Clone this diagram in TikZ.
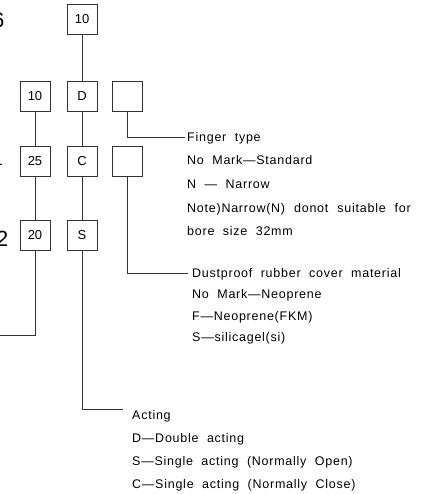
\documentclass[tikz,border=0pt]{standalone}
\usepackage{fontspec}
\setmainfont{Liberation Sans}
\newfontfamily\lblfont[LetterSpace=6]{Liberation Sans}
\begin{document}
\begin{tikzpicture}[x=1pt,y=-1pt,
  box/.style={draw=black!80, line width=0.9pt, minimum size=30pt, inner sep=0pt, font=\fontsize{13}{15}\selectfont},
  conn/.style={draw=black!80, line width=0.9pt},
  lbl/.style={anchor=base west, inner sep=0pt, font=\lblfont\fontsize{12.5}{14}\selectfont},
  edge/.style={anchor=base east, inner sep=0pt, font=\fontsize{21}{24}\selectfont}]
\useasboundingbox (0,0) rectangle (426,494);
\clip (0,0) rectangle (426,494);
% cut-off digits on the left edge
\node[edge] (l6) at (4.5,28) {6};
\node[edge, font=\fontsize{14}{16}\selectfont] (l1) at (3,169) {-};
\node[edge, font=\fontsize{22}{24}\selectfont] (l2) at (8.5,246) {2};
% boxes
\node[box] (t10) at (82,19) {10};
\node[box] (a10) at (35,96) {10};
\node[box] (d) at (82,96) {D};
\node[box] (e1) at (127,96) {};
\node[box] (a25) at (35,161.5) {25};
\node[box] (c) at (82,161.5) {C};
\node[box] (e2) at (127,161.5) {};
\node[box] (a20) at (35,235.5) {20};
\node[box] (s) at (82,235.5) {S};
% bend points
\coordinate (sL) at (82,409);
\coordinate (sE) at (123,409);
\coordinate (aL) at (35,335);
\coordinate (aE) at (-5,335);
\coordinate (f1) at (127,137);
\coordinate (f2) at (185,137);
\coordinate (g1) at (127,273);
\coordinate (g2) at (188,273);
% connectors
\draw[conn] (t10) -- (d);
\draw[conn] (d) -- (c);
\draw[conn] (c) -- (s);
\draw[conn] (s) -- (sL) -- (sE);
\draw[conn] (a10) -- (a25);
\draw[conn] (a25) -- (a20);
\draw[conn] (a20) -- (aL) -- (aE);
\draw[conn] (e1) -- (f1) -- (f2);
\draw[conn] (e2) -- (g1) -- (g2);
% finger type
\node[lbl] (ft1) at (187,142) {Finger\ \ type};
\node[lbl] (ft2) at (187,165) {No\ \ Mark—Standard};
\node[lbl] (ft3) at (187,188) {N\ \ —\ \ Narrow};
\node[lbl] (ft4) at (187,212) {Note)Narrow(N)\hspace{9pt}donot\hspace{9pt}suitable\hspace{9pt}for};
\node[lbl] (ft5) at (187,235) {bore\ \ size\ \ 32mm};
% dustproof
\node[lbl] (dp1) at (192,277) {Dustproof\ \ rubber\ \ cover\ \ material};
\node[lbl] (dp2) at (192,298) {No\ \ Mark—Neoprene};
\node[lbl] (dp3) at (192,320) {F—Neoprene(FKM)};
\node[lbl] (dp4) at (192,341) {S—silicagel(si)};
% acting
\node[lbl] (ac1) at (132,419) {Acting};
\node[lbl] (ac2) at (132,442) {D—Double\ \ acting};
\node[lbl] (ac3) at (132,465) {S—Single\ \ acting\ \ (Normally\ \ Open)};
\node[lbl] (ac4) at (132,488) {C—Single\ \ acting\ \ (Normally\ \ Close)};
\end{tikzpicture}
\end{document}
